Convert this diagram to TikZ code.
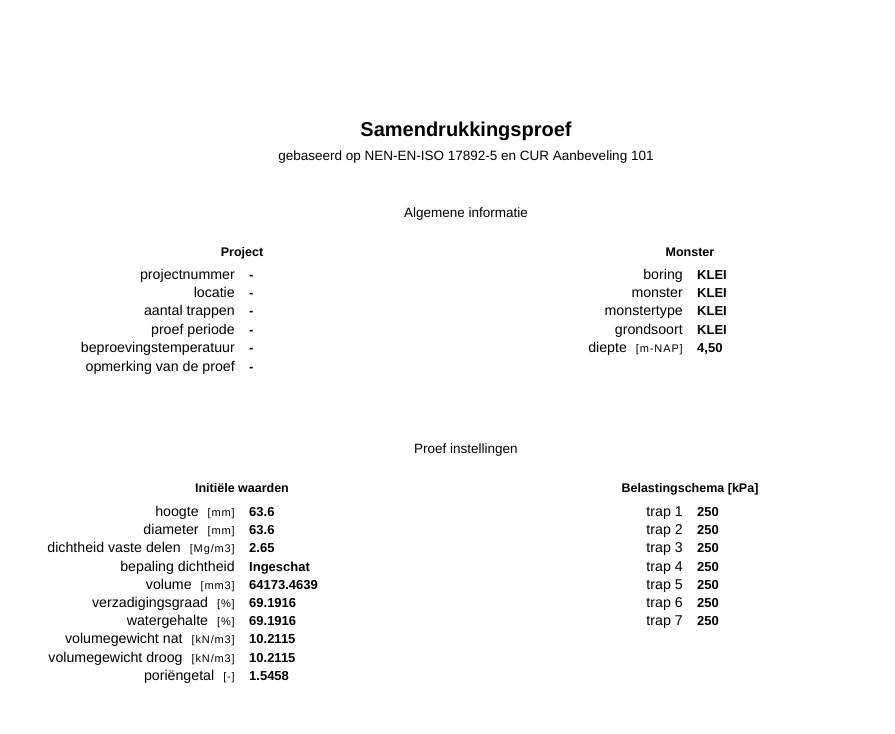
\documentclass[tikz,border=0pt]{standalone}
\usepackage{fontspec}
\setmainfont{Liberation Sans}
\newfontfamily\kleinfont[LetterSpace=8]{Liberation Sans}
\usetikzlibrary{positioning}

\tikzset{
  titel/.style={anchor=base, inner sep=0pt, font=\bfseries\fontsize{20}{24}\selectfont},
  sectie/.style={anchor=base, inner sep=0pt, font=\fontsize{13.5}{16}\selectfont},
  kop/.style={anchor=base, inner sep=0pt, font=\bfseries\fontsize{12.5}{15}\selectfont},
  lbl/.style={anchor=base east, inner sep=0pt, font=\fontsize{14.2}{17}\selectfont},
  val/.style={anchor=base west, inner sep=0pt, font=\bfseries\fontsize{13}{16}\selectfont},
}
\newcommand{\eenheid}[1]{\hspace{9pt}{\kleinfont\fontsize{11}{13}\selectfont[#1]}}

\begin{document}
\begin{tikzpicture}[x=1pt,y=-1pt]
  \useasboundingbox (0,0) rectangle (895,734);

  % titel
  \node[titel]  (titel) at (466,136) {Samendrukkingsproef};
  \node[sectie] (norm)  at (466,160) {gebaseerd op NEN-EN-ISO 17892-5 en CUR Aanbeveling 101};

  % algemene informatie
  \node[sectie] (alg)   at (466,217) {Algemene informatie};
  \node[kop]    (proj)  at (242,256) {Project};
  \node[kop]    (mon)   at (690,256) {Monster};

  \foreach \t [count=\i] in {projectnummer,locatie,aantal trappen,proef periode,
      beproevingstemperatuur,opmerking van de proef} {
    \node[lbl] (p\i) at (235,279+18.4*\i-18.4) {\t};
    \node[val] (pv\i) at (249,279+18.4*\i-18.4) {-};
  }

  \foreach \t/\v [count=\i] in {boring/KLEI,monster/KLEI,monstertype/KLEI,
      grondsoort/KLEI,diepte\eenheid{m-NAP}/{4,50}} {
    \node[lbl] (m\i) at (683,279+18.4*\i-18.4) {\t};
    \node[val] (mv\i) at (697,279+18.4*\i-18.4) {\v};
  }

  % proef instellingen
  \node[sectie] (inst)  at (466,453) {Proef instellingen};
  \node[kop]    (init)  at (242,492) {Initiële waarden};
  \node[kop]    (bel)   at (690,492) {Belastingschema [kPa]};

  \foreach \t/\v [count=\i] in {hoogte\eenheid{mm}/63.6,diameter\eenheid{mm}/63.6,
      dichtheid vaste delen\eenheid{Mg/m3}/2.65,bepaling dichtheid/Ingeschat,
      volume\eenheid{mm3}/64173.4639,verzadigingsgraad\eenheid{\%}/69.1916,
      watergehalte\eenheid{\%}/69.1916,volumegewicht nat\eenheid{kN/m3}/10.2115,
      volumegewicht droog\eenheid{kN/m3}/10.2115,poriëngetal\eenheid{-}/1.5458} {
    \node[lbl] (w\i) at (235,516.5+18.2*\i-18.2) {\t};
    \node[val] (wv\i) at (249,516.5+18.2*\i-18.2) {\v};
  }

  \foreach \i in {1,...,7} {
    \node[lbl] (t\i) at (683,516.5+18.2*\i-18.2) {trap \i};
    \node[val] (tv\i) at (697,516.5+18.2*\i-18.2) {250};
  }
\end{tikzpicture}
\end{document}
